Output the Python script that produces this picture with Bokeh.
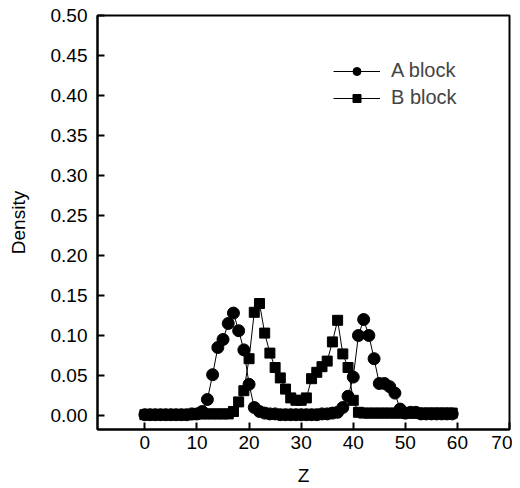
from bokeh.plotting import figure
from bokeh.models import Range1d, FixedTicker, PrintfTickFormatter, Legend, LegendItem, ColumnDataSource
from bokeh.embed import file_html
from bokeh.resources import INLINE

z = list(range(0, 60))
a_block = [0.001, 0.001, 0.001, 0.001, 0.001, 0.001, 0.001, 0.001, 0.001, 0.002,
           0.002, 0.005, 0.020, 0.051, 0.085, 0.095, 0.115, 0.128, 0.106, 0.082,
           0.039, 0.010, 0.005, 0.003, 0.002, 0.002, 0.001, 0.001, 0.001, 0.001,
           0.001, 0.001, 0.001, 0.001, 0.002, 0.002, 0.003, 0.004, 0.010, 0.024,
           0.048, 0.100, 0.120, 0.100, 0.071, 0.040, 0.040, 0.036, 0.028, 0.008,
           0.003, 0.004, 0.004, 0.002, 0.002, 0.002, 0.002, 0.002, 0.002, 0.002]
b_block = [0.001, 0.001, 0.001, 0.001, 0.001, 0.001, 0.001, 0.001, 0.001, 0.001,
           0.002, 0.002, 0.002, 0.002, 0.002, 0.002, 0.002, 0.005, 0.017, 0.031,
           0.071, 0.129, 0.140, 0.103, 0.078, 0.060, 0.047, 0.033, 0.022, 0.019,
           0.019, 0.022, 0.046, 0.054, 0.061, 0.068, 0.092, 0.119, 0.077, 0.060,
           0.019, 0.004, 0.003, 0.003, 0.003, 0.003, 0.003, 0.003, 0.003, 0.003,
           0.003, 0.003, 0.003, 0.003, 0.003, 0.003, 0.003, 0.003, 0.003, 0.003]
x_ticks = [0, 10, 20, 30, 40, 50, 60, 70]
y_ticks = [0.00, 0.05, 0.10, 0.15, 0.20, 0.25, 0.30, 0.35, 0.40, 0.45, 0.50]

FONT = "Liberation Sans"
FS = "19px"

p = figure(width=512, height=488, output_backend="svg", toolbar_location=None,
           x_range=Range1d(-9.1, 70), y_range=Range1d(-0.0175, 0.50),
           min_border_left=97, min_border_right=3, min_border_top=15, min_border_bottom=59)
p.xgrid.visible = False
p.ygrid.visible = False
p.outline_line_color = "black"
p.outline_line_width = 2
p.background_fill_color = "white"
p.border_fill_color = "white"

src = ColumnDataSource(dict(z=z, a=a_block, b=b_block))
la = p.line("z", "a", source=src, line_color="black", line_width=1)
sa = p.scatter("z", "a", source=src, marker="circle", size=12, fill_color="black", line_color="black")
lb = p.line("z", "b", source=src, line_color="black", line_width=1)
sb = p.scatter("z", "b", source=src, marker="square", size=10, fill_color="black", line_color="black")

for ax in (p.xaxis[0], p.yaxis[0]):
    ax.axis_line_width = 2
    ax.axis_line_color = "black"
    ax.major_tick_in = 7
    ax.major_tick_out = 0
    ax.major_tick_line_width = 2
    ax.minor_tick_in = 0
    ax.minor_tick_out = 0
    ax.major_label_text_font = FONT
    ax.major_label_text_font_size = FS
    ax.major_label_text_color = "black"
    ax.axis_label_text_font = FONT
    ax.axis_label_text_font_size = FS
    ax.axis_label_text_font_style = "normal"
    ax.axis_label_text_color = "black"

p.xaxis.ticker = FixedTicker(ticks=x_ticks)
p.yaxis.ticker = FixedTicker(ticks=y_ticks)
p.yaxis.formatter = PrintfTickFormatter(format="%.2f")
p.xaxis.axis_label = "Z"
p.yaxis.axis_label = "Density"
p.xaxis.major_label_standoff = 6
p.yaxis.major_label_standoff = 10
p.xaxis.axis_label_standoff = 13
p.yaxis.axis_label_standoff = 19

legend = Legend(items=[LegendItem(label="A block", renderers=[la, sa]),
                       LegendItem(label="B block", renderers=[lb, sb])],
                location=(236, 320), padding=0, margin=0, spacing=4,
                glyph_width=47, glyph_height=20, label_standoff=11,
                label_text_font=FONT, label_text_font_size="20px",
                border_line_alpha=0, background_fill_alpha=0)
p.add_layout(legend, "center")

open("out.html", "w").write(file_html(p, INLINE))
